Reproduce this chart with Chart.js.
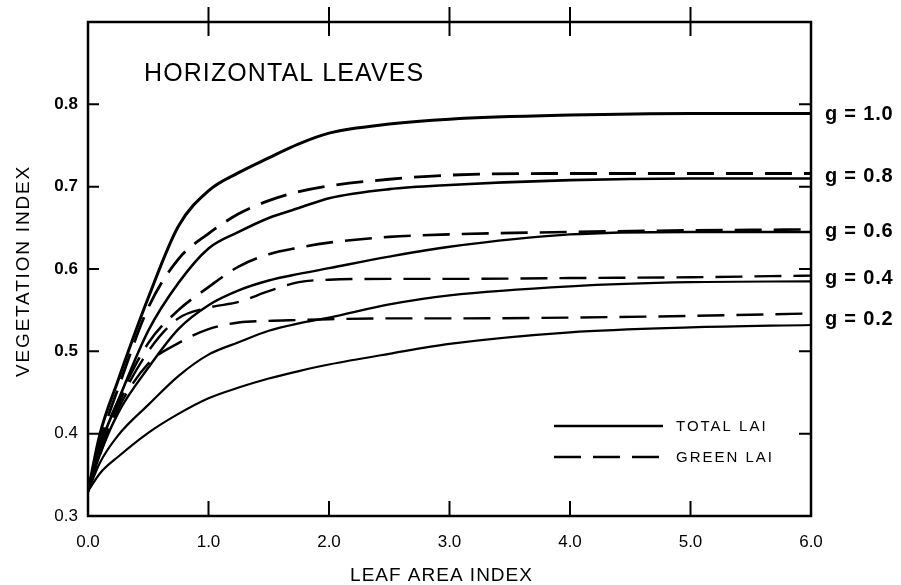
<!DOCTYPE html>
<html>
<head>
<meta charset="utf-8">
<script src="https://cdn.jsdelivr.net/npm/chart.js@4.4.1/dist/chart.umd.min.js"></script>
<style>
  html, body { margin: 0; padding: 0; background: #ffffff; }
  #wrap { width: 901px; height: 585px; }
</style>
</head>
<body>
<div id="wrap"><canvas id="c" width="901" height="585"></canvas></div>
<script>
// ---- data ----
const lai = [0, 0.1, 0.25, 0.5, 0.75, 1.0, 1.25, 1.5, 1.75, 2.0, 2.5, 3.0, 4.0, 5.0, 6.0];

const total_g10 = [0.33, 0.40, 0.465, 0.565, 0.652, 0.695, 0.717, 0.735, 0.752, 0.765, 0.776, 0.782, 0.787, 0.789, 0.789];
const green_g08 = [0.33, 0.39, 0.455, 0.553, 0.612, 0.643, 0.667, 0.683, 0.694, 0.701, 0.709, 0.714, 0.716, 0.716, 0.716];
const total_g08 = [0.33, 0.385, 0.44, 0.525, 0.583, 0.625, 0.645, 0.662, 0.674, 0.686, 0.697, 0.702, 0.708, 0.710, 0.710];
const green_g06 = [0.33, 0.385, 0.44, 0.51, 0.55, 0.578, 0.603, 0.618, 0.626, 0.632, 0.639, 0.642, 0.645, 0.647, 0.648];
const total_g06 = [0.33, 0.375, 0.425, 0.48, 0.527, 0.556, 0.574, 0.586, 0.594, 0.601, 0.615, 0.627, 0.642, 0.645, 0.645];
const green_g04 = [0.33, 0.38, 0.435, 0.50, 0.54, 0.553, 0.560, 0.573, 0.584, 0.587, 0.588, 0.588, 0.589, 0.590, 0.592];
const total_g04 = [0.33, 0.365, 0.398, 0.435, 0.47, 0.496, 0.511, 0.525, 0.534, 0.541, 0.557, 0.568, 0.579, 0.584, 0.585];
const green_g02 = [0.33, 0.375, 0.43, 0.485, 0.51, 0.527, 0.535, 0.537, 0.538, 0.539, 0.540, 0.540, 0.541, 0.543, 0.546];
const total_g02 = [0.33, 0.352, 0.372, 0.401, 0.424, 0.443, 0.456, 0.467, 0.476, 0.484, 0.497, 0.509, 0.523, 0.529, 0.532];

const xTicks = [0, 1, 2, 3, 4, 5, 6];
const yTicks = [0.3, 0.4, 0.5, 0.6, 0.7, 0.8];
const gLabels = ['g = 1.0', 'g = 0.8', 'g = 0.6', 'g = 0.4', 'g = 0.2'];
const gLabelValues = [0.789, 0.713, 0.647, 0.590, 0.540];
const legendLabels = ['TOTAL LAI', 'GREEN LAI'];
const chartTitle = 'HORIZONTAL LEAVES';
const xTitle = 'LEAF AREA INDEX';
const yTitle = 'VEGETATION INDEX';

// ---- styling ----
const FONT = '"Liberation Sans", Arial, sans-serif';
const DASH = [27, 12];

function series(vals, dashed, width) {
  return {
    data: lai.map((x, i) => ({ x: x, y: vals[i] })),
    borderColor: '#000',
    borderWidth: width,
    borderDash: dashed ? DASH : [],
    pointRadius: 0,
    fill: false,
    cubicInterpolationMode: 'monotone'
  };
}

const datasets = [
  series(total_g10, false, 3),
  series(green_g08, true, 2.8),
  series(total_g08, false, 2.6),
  series(green_g06, true, 2.6),
  series(total_g06, false, 2.4),
  series(green_g04, true, 2.4),
  series(total_g04, false, 2.2),
  series(green_g02, true, 2.4),
  series(total_g02, false, 2.2)
];

function spacedText(ctx, text, x, y, spacing) {
  ctx.letterSpacing = spacing + 'px';
  ctx.fillText(text, x, y);
  ctx.letterSpacing = '0px';
}

const decor = {
  id: 'decor',
  afterDraw(chart) {
    const ctx = chart.ctx;
    const a = chart.chartArea;
    const xs = chart.scales.x, ys = chart.scales.y;
    ctx.save();
    ctx.strokeStyle = '#000';
    ctx.fillStyle = '#000';
    // frame
    ctx.lineWidth = 2.5;
    ctx.strokeRect(a.left, a.top, a.right - a.left, a.bottom - a.top);
    // ticks
    ctx.lineWidth = 2;
    ctx.beginPath();
    xTicks.slice(1, -1).forEach(v => {
      const px = xs.getPixelForValue(v);
      ctx.moveTo(px, a.bottom); ctx.lineTo(px, a.bottom - 15);
      ctx.moveTo(px, a.top - 15); ctx.lineTo(px, a.top + 14);
    });
    yTicks.slice(1).forEach(v => {
      const py = ys.getPixelForValue(v);
      ctx.moveTo(a.left, py); ctx.lineTo(a.left + 11, py);
      ctx.moveTo(a.right, py); ctx.lineTo(a.right - 12, py);
    });
    ctx.stroke();

    // chart title
    ctx.textBaseline = 'middle';
    ctx.textAlign = 'left';
    ctx.font = '25px ' + FONT;
    spacedText(ctx, chartTitle, a.left + 56, 74, 1.1);

    // curve labels on the right
    ctx.font = 'bold 20px ' + FONT;
    gLabels.forEach((t, i) => {
      spacedText(ctx, t, a.right + 14, ys.getPixelForValue(gLabelValues[i]) + 1, 0.8);
    });

    // legend
    const lx0 = a.left + 466, lx1 = a.left + 575, tx = a.left + 588;
    const ly = [a.top + 404, a.top + 435];
    ctx.lineWidth = 2.5;
    ctx.beginPath(); ctx.moveTo(lx0, ly[0]); ctx.lineTo(lx1, ly[0]); ctx.stroke();
    ctx.setLineDash(DASH);
    ctx.beginPath(); ctx.moveTo(lx0, ly[1]); ctx.lineTo(lx1, ly[1]); ctx.stroke();
    ctx.setLineDash([]);
    ctx.font = '15px ' + FONT;
    legendLabels.forEach((t, i) => spacedText(ctx, t, tx, ly[i] + 1, 2));

    // axis titles
    ctx.font = '19px ' + FONT;
    ctx.textAlign = 'center';
    spacedText(ctx, xTitle, (a.left + a.right) / 2 - 8, 576, 1);
    ctx.save();
    ctx.translate(24, (a.top + a.bottom) / 2 + 2);
    ctx.rotate(-Math.PI / 2);
    spacedText(ctx, yTitle, 0, 0, 1.8);
    ctx.restore();

    ctx.restore();
  }
};

new Chart(document.getElementById('c'), {
  type: 'line',
  data: { datasets: datasets },
  plugins: [decor],
  options: {
    responsive: false,
    animation: false,
    events: [],
    layout: { padding: { left: 0, right: 90, top: 22, bottom: 0 } },
    plugins: { legend: { display: false }, tooltip: { enabled: false }, title: { display: false } },
    scales: {
      x: {
        type: 'linear', min: 0, max: 6,
        afterBuildTicks: s => { s.ticks = xTicks.map(v => ({ value: v })); },
        afterFit: s => { s.height = 69; },
        grid: { display: false, drawTicks: false },
        border: { display: false },
        ticks: {
          color: '#000', padding: 16, maxRotation: 0,
          font: { family: FONT, size: 17 },
          callback: v => Number(v).toFixed(1)
        }
      },
      y: {
        type: 'linear', min: 0.3, max: 0.9,
        afterBuildTicks: s => { s.ticks = yTicks.map(v => ({ value: v })); },
        afterFit: s => { s.width = 88; },
        grid: { display: false, drawTicks: false },
        border: { display: false },
        ticks: {
          color: '#000', padding: 10,
          font: ctx => ({ family: FONT, size: 17, weight: (ctx.tick && ctx.tick.value >= 0.45) ? 'bold' : 'normal' }),
          callback: v => Number(v).toFixed(1)
        }
      }
    }
  }
});
</script>
</body>
</html>
